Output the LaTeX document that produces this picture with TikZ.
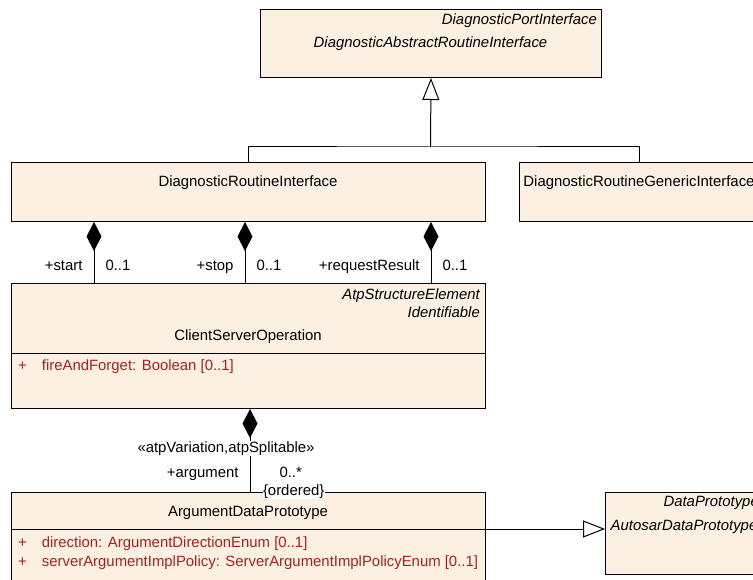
\documentclass[tikz,border=0pt]{standalone}
\usepackage{fontspec}
\setmainfont{Liberation Sans}
\usepackage{tikz}
\usetikzlibrary{arrows.meta, positioning}
\definecolor{boxfill}{HTML}{FBF0E2}
\definecolor{attrred}{HTML}{A32222}

\begin{document}
\begin{tikzpicture}[
    x=1pt, y=-1pt,
    every node/.style={font=\fontsize{14.9}{17}\selectfont, inner sep=0pt,
                       text height=10.5pt, text depth=3pt},
    umlbox/.style={draw, fill=boxfill, line width=1pt, anchor=north west},
    stereo/.style={font=\fontsize{14.9}{17}\selectfont\itshape},
    attr/.style={text=attrred, anchor=west},
    gen/.style={line width=1pt, -{Triangle[open, length=22pt, width=17pt]}},
    comp/.style={line width=1pt, {Diamond[length=29pt, width=15pt]}-},
  ]
  \clip (0,0) rectangle (753,580);

  % Klassen
  \node[umlbox, minimum width=341pt, minimum height=68pt] (darif) at (260,9) {};
  \node[umlbox, minimum width=474pt, minimum height=59pt] (dri) at (11,162) {};
  \node[umlbox, minimum width=240pt, minimum height=59pt] (drgi) at (519,162) {};
  \node[umlbox, minimum width=474pt, minimum height=125pt] (cso) at (11,283) {};
  \node[umlbox, minimum width=474pt, minimum height=120pt] (adp) at (11,492) {};
  \node[umlbox, minimum width=158pt, minimum height=82pt] (adpr) at (605,492) {};
  \draw[line width=1pt] ([yshift=-70pt]cso.north west) -- ([yshift=-70pt]cso.north east);
  \draw[line width=1pt] ([yshift=-37pt]adp.north west) -- ([yshift=-37pt]adp.north east);

  % Texte
  \node[stereo, anchor=east] (darif-st) at (597,21) {DiagnosticPortInterface};
  \node[stereo] (darif-name) at (430.5,44) {DiagnosticAbstractRoutineInterface};
  \node (dri-name) at (248,183) {DiagnosticRoutineInterface};
  \node (drgi-name) at (639,183) {DiagnosticRoutineGenericInterface};
  \node[stereo, anchor=east] (cso-st1) at (480,296) {AtpStructureElement};
  \node[stereo, anchor=east] (cso-st2) at (480,313.5) {Identifiable};
  \node (cso-name) at (248,336.5) {ClientServerOperation};
  \node[attr] (cso-a1) at (18,367) {\makebox[23.7pt][l]{+}fireAndForget: Boolean [0..1]};
  \node (adp-name) at (248,512.5) {ArgumentDataPrototype};
  \node[attr] (adp-a1) at (18,544) {\makebox[23.7pt][l]{+}direction: ArgumentDirectionEnum [0..1]};
  \node[attr] (adp-a2) at (18,563) {\makebox[23.7pt][l]{+}serverArgumentImplPolicy: ServerArgumentImplPolicyEnum [0..1]};
  \node[stereo, anchor=east] (adpr-st) at (759,503) {DataPrototype};
  \node[stereo] (adpr-name) at (684,527) {AutosarDataPrototype};

  % Generalisierungen
  \coordinate (join) at (430.5,147);
  \draw[gen] (join) -- (darif.south);
  \draw[line width=1pt] (dri.north) |- (join) -| (drgi.north);
  \draw[gen] ([yshift=-37pt]adp.north east) -- ([yshift=-37pt]adpr.north west);

  % Kompositionen
  \draw[comp] ([xshift=83pt]dri.south west) -- ([xshift=83pt]cso.north west)
    node[pos=0.73, left=11pt] {+start} node[pos=0.73, right=11pt] {0..1};
  \draw[comp] ([xshift=234pt]dri.south west) -- ([xshift=234pt]cso.north west)
    node[pos=0.73, left=11pt] {+stop} node[pos=0.73, right=11pt] {0..1};
  \draw[comp] ([xshift=420pt]dri.south west) -- ([xshift=420pt]cso.north west)
    node[pos=0.73, left=11pt] {+requestResult} node[pos=0.73, right=11pt] {0..1};
  \draw[comp] ([xshift=239pt]cso.south west) -- ([xshift=239pt]adp.north west)
    node[pos=0.476, xshift=-24pt, fill=white, inner sep=1pt] {«atpVariation,atpSplitable»}
    node[pos=0.786, left=11pt] {+argument}
    node[pos=0.786, right=29pt] {0..*}
    node[pos=1, right=12pt, fill=white, inner sep=0.5pt] {\{ordered\}};
\end{tikzpicture}
\end{document}
